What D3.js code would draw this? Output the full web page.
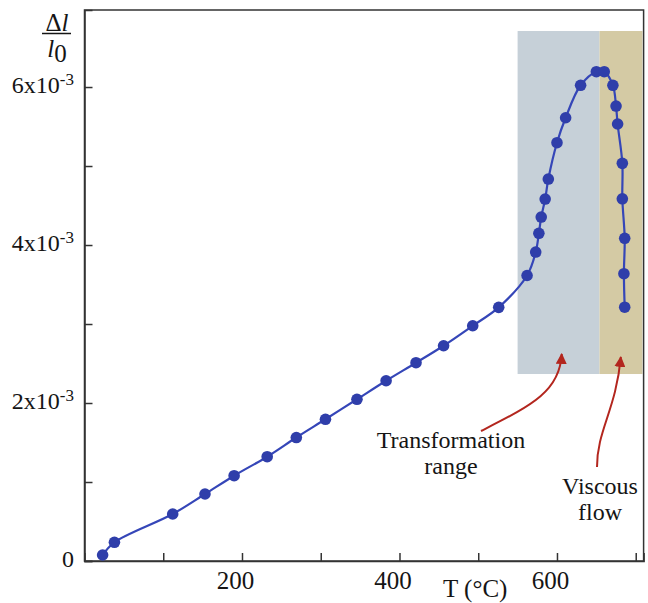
<!DOCTYPE html>
<html>
<head>
<meta charset="utf-8">
<script src="https://cdn.jsdelivr.net/npm/d3@7/dist/d3.min.js"></script>
<style>
  html, body { margin: 0; padding: 0; background: #fff; }
  svg { display: block; }
  text { font-family: "Liberation Serif", "Times New Roman", serif; fill: #151515; }
</style>
</head>
<body>
<svg id="chart" width="648" height="603"></svg>
<script>
// ---- data (strain in units of 10^-3) ----
const temperature = [23, 38, 112, 153, 190, 232, 269, 306, 346, 383, 421, 456, 493, 526,
  562, 573, 577, 580, 585, 589, 600, 611, 630, 650, 660, 671, 675, 677, 683, 683, 686, 685, 686];
const strain = [0.076, 0.237, 0.595, 0.848, 1.080, 1.320, 1.563, 1.794, 2.047, 2.282, 2.510, 2.725, 2.978, 3.211,
  3.614, 3.911, 4.148, 4.354, 4.582, 4.835, 5.295, 5.611, 6.022, 6.194, 6.194, 6.022, 5.759, 5.532, 5.034, 4.585, 4.085, 3.637, 3.213];
const xTicks = [100, 200, 300, 400, 500, 600, 700];
const xTickLabels = ["", "200", "", "400", "", "600", ""];
const yTicks = [0, 1, 2, 3, 4, 5, 6];
const yTickLabels = ["0", "", "2x10", "", "4x10", "", "6x10"];
const regions = [
  { name: "Transformation range", t0: 550, t1: 654, s0: 2.367, s1: 6.709, color: "#c6d0d8" },
  { name: "Viscous flow", t0: 654, t1: 708.5, s0: 2.367, s1: 6.709, color: "#d4caa4" }
];

const svg = d3.select("#chart");
const x = d3.scaleLinear().domain([0, 710]).range([84.5, 643.6]);
const y = d3.scaleLinear().domain([0, 6.975]).range([561, 10]);

// shaded regions
svg.selectAll("rect.region").data(regions).join("rect")
  .attr("class", "region")
  .attr("x", d => x(d.t0)).attr("y", d => y(d.s1))
  .attr("width", d => x(d.t1) - x(d.t0)).attr("height", d => y(d.s0) - y(d.s1))
  .attr("fill", d => d.color);

// frame
svg.append("rect")
  .attr("x", x(0)).attr("y", y(6.975))
  .attr("width", x(710) - x(0)).attr("height", y(0) - y(6.975))
  .attr("fill", "none").attr("stroke", "#333").attr("stroke-width", 1.5);

// x axis
const xAxis = d3.axisBottom(x).tickValues(xTicks).tickSize(-8).tickPadding(10)
  .tickFormat((d, i) => xTickLabels[i]);
const gx = svg.append("g").attr("transform", `translate(0,${y(0)})`).call(xAxis);
gx.select(".domain").attr("stroke", "#333").attr("stroke-width", 1.5);
gx.selectAll(".tick line").attr("stroke", "#333").attr("stroke-width", 1.5);
gx.selectAll(".tick text").attr("font-size", 25).attr("dx", -7)
  .attr("font-family", "Liberation Serif, Times New Roman, serif").attr("fill", "#151515");

// y axis
const yAxis = d3.axisLeft(y).tickValues(yTicks).tickSize(-8).tickPadding(10).tickFormat("");
const gy = svg.append("g").attr("transform", `translate(${x(0)},0)`).call(yAxis);
gy.select(".domain").attr("stroke", "#333").attr("stroke-width", 1.5);
gy.selectAll(".tick line").attr("stroke", "#333").attr("stroke-width", 1.5);
gy.selectAll(".tick text").remove();
yTicks.forEach((v, i) => {
  const lab = yTickLabels[i];
  if (!lab) return;
  const t = svg.append("text")
    .attr("x", 74).attr("y", y(v) + 6)
    .attr("text-anchor", "end").attr("font-size", 24);
  t.append("tspan").text(lab);
  if (lab !== "0") {
    t.append("tspan").attr("font-size", 17).attr("dy", -8).text("-3");
  }
});

// y axis title  Δl / l0
const num = svg.append("text").attr("x", 57).attr("y", 31)
  .attr("text-anchor", "middle").attr("font-size", 25);
num.append("tspan").text("Δ");
num.append("tspan").attr("font-style", "italic").text("l");
svg.append("line").attr("x1", 42).attr("x2", 71).attr("y1", 33.5).attr("y2", 33.5)
  .attr("stroke", "#151515").attr("stroke-width", 1.5);
const den = svg.append("text").attr("x", 57).attr("y", 57)
  .attr("text-anchor", "middle").attr("font-size", 25);
den.append("tspan").attr("font-style", "italic").text("l");
den.append("tspan").attr("dy", 5).text("0");

// x axis title
svg.append("text").attr("x", 443).attr("y", 597).attr("font-size", 25).text("T (°C)");

// curve and points
const pts = temperature.map((t, i) => [t, strain[i]]);
const line = d3.line().x(d => x(d[0])).y(d => y(d[1])).curve(d3.curveCatmullRom.alpha(0.5));
svg.append("path").datum(pts).attr("d", line)
  .attr("fill", "none").attr("stroke", "#3546b8").attr("stroke-width", 2.2);
svg.selectAll("circle.pt").data(pts).join("circle")
  .attr("class", "pt")
  .attr("cx", d => x(d[0])).attr("cy", d => y(d[1])).attr("r", 5.8)
  .attr("fill", "#2f3eaa");

// annotations
const defs = svg.append("defs");
defs.append("marker").attr("id", "ah").attr("viewBox", "0 0 10 10")
  .attr("refX", 9).attr("refY", 5).attr("markerWidth", 11).attr("markerHeight", 11)
  .attr("markerUnits", "userSpaceOnUse").attr("orient", "auto")
  .append("path").attr("d", "M0,0 L10,5 L0,10 Z").attr("fill", "#b3261e");

svg.append("path")
  .attr("d", "M481,431 C530,406 560,392 561.7,354")
  .attr("fill", "none").attr("stroke", "#b3261e").attr("stroke-width", 2)
  .attr("marker-end", "url(#ah)");
svg.append("path")
  .attr("d", "M597,467 C597,430 616,410 620.8,357")
  .attr("fill", "none").attr("stroke", "#b3261e").attr("stroke-width", 2)
  .attr("marker-end", "url(#ah)");

const tr = svg.append("text").attr("font-size", 24).attr("text-anchor", "middle");
tr.append("tspan").attr("x", 451).attr("y", 448).text("Transformation");
tr.append("tspan").attr("x", 451).attr("y", 474).text("range");
const vf = svg.append("text").attr("font-size", 24).attr("text-anchor", "middle");
vf.append("tspan").attr("x", 600).attr("y", 494).text("Viscous");
vf.append("tspan").attr("x", 600).attr("y", 520).text("flow");
</script>
</body>
</html>
